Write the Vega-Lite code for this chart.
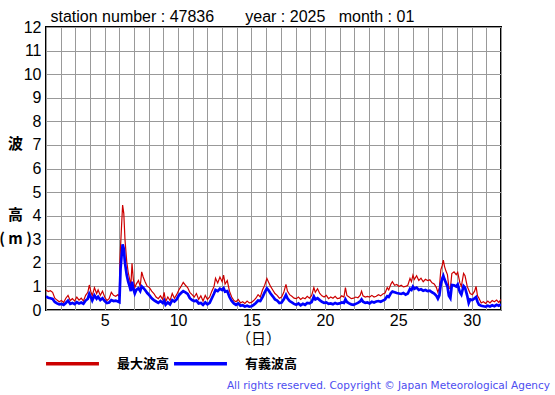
{
  "$schema": "https://vega.github.io/schema/vega-lite/v6.json",
  "width": 455,
  "height": 283,
  "autosize": {"type": "none"},
  "padding": {"left": 46, "top": 27, "right": 54, "bottom": 85},
  "background": "white",
  "config": {
    "view": {"stroke": "black", "strokeWidth": 2},
    "font": "Liberation Sans"
  },
  "title": {
    "text": "All rights reserved. Copyright © Japan Meteorological Agency",
    "orient": "bottom",
    "anchor": "end",
    "font": "DejaVu Sans",
    "fontSize": 10.5,
    "fontWeight": "normal",
    "color": "#4d4df0",
    "dx": 49,
    "offset": 10
  },
  "data": {
    "values": [
      {"d": 1.0, "max": 0.85, "sig": 0.57}, {"d": 1.15, "max": 0.78, "sig": 0.52}, {"d": 1.3, "max": 0.82, "sig": 0.5}, {"d": 1.45, "max": 0.75, "sig": 0.47},
      {"d": 1.6, "max": 0.5, "sig": 0.34}, {"d": 1.75, "max": 0.42, "sig": 0.28}, {"d": 1.9, "max": 0.35, "sig": 0.24}, {"d": 2.05, "max": 0.4, "sig": 0.26},
      {"d": 2.2, "max": 0.32, "sig": 0.22}, {"d": 2.35, "max": 0.5, "sig": 0.3}, {"d": 2.5, "max": 0.62, "sig": 0.4}, {"d": 2.65, "max": 0.4, "sig": 0.26},
      {"d": 2.8, "max": 0.48, "sig": 0.3}, {"d": 2.95, "max": 0.38, "sig": 0.25}, {"d": 3.1, "max": 0.55, "sig": 0.33}, {"d": 3.25, "max": 0.42, "sig": 0.28},
      {"d": 3.4, "max": 0.5, "sig": 0.32}, {"d": 3.55, "max": 0.38, "sig": 0.27}, {"d": 3.7, "max": 0.62, "sig": 0.4}, {"d": 3.85, "max": 0.75, "sig": 0.48},
      {"d": 3.95, "max": 1.06, "sig": 0.68}, {"d": 4.05, "max": 0.8, "sig": 0.55}, {"d": 4.15, "max": 0.6, "sig": 0.4}, {"d": 4.3, "max": 0.95, "sig": 0.62},
      {"d": 4.45, "max": 0.7, "sig": 0.48}, {"d": 4.55, "max": 0.85, "sig": 0.56}, {"d": 4.7, "max": 0.62, "sig": 0.42}, {"d": 4.85, "max": 0.8, "sig": 0.5},
      {"d": 5.0, "max": 0.55, "sig": 0.38}, {"d": 5.15, "max": 0.4, "sig": 0.3}, {"d": 5.3, "max": 0.48, "sig": 0.32}, {"d": 5.45, "max": 0.75, "sig": 0.42},
      {"d": 5.6, "max": 0.62, "sig": 0.38}, {"d": 5.75, "max": 0.58, "sig": 0.4}, {"d": 5.9, "max": 0.65, "sig": 0.36}, {"d": 6.0, "max": 0.55, "sig": 0.33},
      {"d": 6.03, "max": 2.0, "sig": 0.85}, {"d": 6.08, "max": 2.7, "sig": 1.75}, {"d": 6.15, "max": 3.6, "sig": 2.3}, {"d": 6.22, "max": 4.45, "sig": 2.78},
      {"d": 6.3, "max": 4.1, "sig": 2.6}, {"d": 6.38, "max": 3.0, "sig": 2.0}, {"d": 6.5, "max": 2.05, "sig": 1.48}, {"d": 6.6, "max": 1.6, "sig": 1.2},
      {"d": 6.7, "max": 1.3, "sig": 1.0}, {"d": 6.78, "max": 1.0, "sig": 0.8}, {"d": 6.86, "max": 1.98, "sig": 1.2}, {"d": 6.95, "max": 1.3, "sig": 0.9},
      {"d": 7.05, "max": 0.95, "sig": 0.7}, {"d": 7.15, "max": 1.1, "sig": 0.85}, {"d": 7.3, "max": 1.25, "sig": 0.92}, {"d": 7.42, "max": 1.0, "sig": 0.8},
      {"d": 7.52, "max": 1.62, "sig": 1.0}, {"d": 7.62, "max": 1.4, "sig": 0.95}, {"d": 7.75, "max": 1.2, "sig": 0.85}, {"d": 7.9, "max": 1.0, "sig": 0.72},
      {"d": 8.05, "max": 0.95, "sig": 0.62}, {"d": 8.2, "max": 0.8, "sig": 0.5}, {"d": 8.35, "max": 0.7, "sig": 0.42}, {"d": 8.5, "max": 0.55, "sig": 0.36},
      {"d": 8.65, "max": 0.48, "sig": 0.3}, {"d": 8.8, "max": 0.6, "sig": 0.38}, {"d": 8.95, "max": 0.45, "sig": 0.3}, {"d": 9.05, "max": 0.75, "sig": 0.4},
      {"d": 9.15, "max": 0.35, "sig": 0.22}, {"d": 9.3, "max": 0.55, "sig": 0.32}, {"d": 9.45, "max": 0.4, "sig": 0.24}, {"d": 9.6, "max": 0.7, "sig": 0.42},
      {"d": 9.75, "max": 0.5, "sig": 0.36}, {"d": 9.9, "max": 0.65, "sig": 0.45}, {"d": 10.05, "max": 0.85, "sig": 0.62}, {"d": 10.2, "max": 1.0, "sig": 0.72},
      {"d": 10.35, "max": 1.17, "sig": 0.8}, {"d": 10.5, "max": 1.05, "sig": 0.75}, {"d": 10.65, "max": 0.95, "sig": 0.68}, {"d": 10.8, "max": 0.75, "sig": 0.5},
      {"d": 10.95, "max": 0.65, "sig": 0.42}, {"d": 11.1, "max": 0.55, "sig": 0.38}, {"d": 11.25, "max": 0.7, "sig": 0.4}, {"d": 11.4, "max": 0.45, "sig": 0.28},
      {"d": 11.55, "max": 0.6, "sig": 0.3}, {"d": 11.7, "max": 0.38, "sig": 0.22}, {"d": 11.85, "max": 0.62, "sig": 0.32}, {"d": 12.0, "max": 0.45, "sig": 0.24},
      {"d": 12.15, "max": 0.55, "sig": 0.3}, {"d": 12.3, "max": 0.8, "sig": 0.5}, {"d": 12.45, "max": 1.0, "sig": 0.7}, {"d": 12.55, "max": 1.35, "sig": 0.85},
      {"d": 12.7, "max": 1.15, "sig": 0.8}, {"d": 12.85, "max": 1.4, "sig": 0.9}, {"d": 13.0, "max": 1.2, "sig": 0.85}, {"d": 13.1, "max": 1.48, "sig": 0.92},
      {"d": 13.2, "max": 1.1, "sig": 0.78}, {"d": 13.35, "max": 1.25, "sig": 0.8}, {"d": 13.5, "max": 0.8, "sig": 0.55}, {"d": 13.65, "max": 0.55, "sig": 0.38},
      {"d": 13.8, "max": 0.4, "sig": 0.28}, {"d": 13.95, "max": 0.35, "sig": 0.22}, {"d": 14.1, "max": 0.45, "sig": 0.28}, {"d": 14.25, "max": 0.3, "sig": 0.18},
      {"d": 14.4, "max": 0.35, "sig": 0.2}, {"d": 14.55, "max": 0.28, "sig": 0.15}, {"d": 14.7, "max": 0.38, "sig": 0.18}, {"d": 14.85, "max": 0.3, "sig": 0.14},
      {"d": 15.0, "max": 0.32, "sig": 0.16}, {"d": 15.15, "max": 0.4, "sig": 0.22}, {"d": 15.3, "max": 0.5, "sig": 0.3}, {"d": 15.45, "max": 0.65, "sig": 0.4},
      {"d": 15.6, "max": 0.55, "sig": 0.38}, {"d": 15.75, "max": 0.85, "sig": 0.55}, {"d": 15.9, "max": 1.05, "sig": 0.75}, {"d": 16.05, "max": 1.34, "sig": 0.92},
      {"d": 16.15, "max": 1.2, "sig": 0.85}, {"d": 16.3, "max": 1.0, "sig": 0.7}, {"d": 16.45, "max": 0.85, "sig": 0.58}, {"d": 16.6, "max": 0.7, "sig": 0.45},
      {"d": 16.75, "max": 0.62, "sig": 0.4}, {"d": 16.9, "max": 0.5, "sig": 0.3}, {"d": 17.05, "max": 0.55, "sig": 0.32}, {"d": 17.2, "max": 0.75, "sig": 0.45},
      {"d": 17.35, "max": 1.09, "sig": 0.64}, {"d": 17.45, "max": 0.8, "sig": 0.5}, {"d": 17.6, "max": 0.65, "sig": 0.38}, {"d": 17.75, "max": 0.58, "sig": 0.32},
      {"d": 17.9, "max": 0.5, "sig": 0.26}, {"d": 18.05, "max": 0.48, "sig": 0.22}, {"d": 18.2, "max": 0.55, "sig": 0.28}, {"d": 18.35, "max": 0.45, "sig": 0.2},
      {"d": 18.5, "max": 0.52, "sig": 0.26}, {"d": 18.65, "max": 0.48, "sig": 0.22}, {"d": 18.8, "max": 0.58, "sig": 0.3}, {"d": 18.95, "max": 0.5, "sig": 0.28},
      {"d": 19.1, "max": 0.62, "sig": 0.34}, {"d": 19.25, "max": 0.95, "sig": 0.57}, {"d": 19.35, "max": 0.75, "sig": 0.45}, {"d": 19.5, "max": 0.9, "sig": 0.5},
      {"d": 19.65, "max": 0.7, "sig": 0.42}, {"d": 19.8, "max": 0.6, "sig": 0.35}, {"d": 19.95, "max": 0.55, "sig": 0.3}, {"d": 20.1, "max": 0.62, "sig": 0.32},
      {"d": 20.25, "max": 0.48, "sig": 0.26}, {"d": 20.4, "max": 0.55, "sig": 0.28}, {"d": 20.55, "max": 0.5, "sig": 0.24}, {"d": 20.7, "max": 0.58, "sig": 0.3},
      {"d": 20.85, "max": 0.48, "sig": 0.26}, {"d": 21.0, "max": 0.5, "sig": 0.28}, {"d": 21.15, "max": 0.6, "sig": 0.32}, {"d": 21.3, "max": 0.55, "sig": 0.3},
      {"d": 21.4, "max": 0.95, "sig": 0.45}, {"d": 21.5, "max": 0.62, "sig": 0.34}, {"d": 21.65, "max": 0.55, "sig": 0.28}, {"d": 21.8, "max": 0.48, "sig": 0.24},
      {"d": 21.95, "max": 0.5, "sig": 0.22}, {"d": 22.1, "max": 0.55, "sig": 0.26}, {"d": 22.25, "max": 0.52, "sig": 0.3}, {"d": 22.4, "max": 0.62, "sig": 0.36},
      {"d": 22.5, "max": 0.8, "sig": 0.45}, {"d": 22.6, "max": 0.6, "sig": 0.35}, {"d": 22.75, "max": 0.55, "sig": 0.3}, {"d": 22.9, "max": 0.58, "sig": 0.32},
      {"d": 23.05, "max": 0.55, "sig": 0.28}, {"d": 23.2, "max": 0.62, "sig": 0.35}, {"d": 23.35, "max": 0.55, "sig": 0.32}, {"d": 23.5, "max": 0.58, "sig": 0.36},
      {"d": 23.65, "max": 0.65, "sig": 0.38}, {"d": 23.8, "max": 0.6, "sig": 0.35}, {"d": 23.95, "max": 0.68, "sig": 0.4}, {"d": 24.1, "max": 0.72, "sig": 0.45},
      {"d": 24.25, "max": 0.95, "sig": 0.58}, {"d": 24.35, "max": 0.85, "sig": 0.55}, {"d": 24.5, "max": 1.1, "sig": 0.72}, {"d": 24.6, "max": 1.2, "sig": 0.78},
      {"d": 24.75, "max": 1.05, "sig": 0.75}, {"d": 24.9, "max": 1.08, "sig": 0.72}, {"d": 25.05, "max": 1.0, "sig": 0.7}, {"d": 25.2, "max": 1.05, "sig": 0.68},
      {"d": 25.35, "max": 0.98, "sig": 0.72}, {"d": 25.5, "max": 1.0, "sig": 0.65}, {"d": 25.65, "max": 1.05, "sig": 0.7}, {"d": 25.8, "max": 1.34, "sig": 0.9},
      {"d": 25.9, "max": 1.2, "sig": 0.85}, {"d": 26.0, "max": 1.48, "sig": 0.99}, {"d": 26.1, "max": 1.3, "sig": 0.9}, {"d": 26.25, "max": 1.45, "sig": 0.95},
      {"d": 26.4, "max": 1.25, "sig": 0.85}, {"d": 26.55, "max": 1.35, "sig": 0.88}, {"d": 26.7, "max": 1.2, "sig": 0.82}, {"d": 26.85, "max": 1.3, "sig": 0.85},
      {"d": 27.0, "max": 1.25, "sig": 0.8}, {"d": 27.15, "max": 1.28, "sig": 0.82}, {"d": 27.3, "max": 1.15, "sig": 0.75}, {"d": 27.45, "max": 1.1, "sig": 0.7},
      {"d": 27.6, "max": 0.95, "sig": 0.6}, {"d": 27.7, "max": 0.75, "sig": 0.48}, {"d": 27.8, "max": 0.95, "sig": 0.62}, {"d": 27.9, "max": 1.7, "sig": 1.1},
      {"d": 28.0, "max": 1.9, "sig": 1.34}, {"d": 28.07, "max": 2.12, "sig": 1.45}, {"d": 28.15, "max": 1.85, "sig": 1.3}, {"d": 28.25, "max": 1.65, "sig": 1.15},
      {"d": 28.35, "max": 1.5, "sig": 1.0}, {"d": 28.45, "max": 0.95, "sig": 0.6}, {"d": 28.55, "max": 0.9, "sig": 0.5}, {"d": 28.65, "max": 1.55, "sig": 1.06},
      {"d": 28.8, "max": 1.62, "sig": 1.05}, {"d": 28.95, "max": 1.5, "sig": 1.0}, {"d": 29.05, "max": 1.6, "sig": 1.08}, {"d": 29.2, "max": 1.15, "sig": 0.75},
      {"d": 29.3, "max": 1.0, "sig": 0.65}, {"d": 29.45, "max": 1.55, "sig": 1.02}, {"d": 29.55, "max": 1.45, "sig": 0.95}, {"d": 29.7, "max": 1.0, "sig": 0.6},
      {"d": 29.8, "max": 0.85, "sig": 0.3}, {"d": 29.9, "max": 0.7, "sig": 0.45}, {"d": 30.05, "max": 0.65, "sig": 0.42}, {"d": 30.2, "max": 0.8, "sig": 0.5},
      {"d": 30.3, "max": 1.0, "sig": 0.55}, {"d": 30.4, "max": 0.6, "sig": 0.35}, {"d": 30.5, "max": 0.5, "sig": 0.22}, {"d": 30.65, "max": 0.3, "sig": 0.18},
      {"d": 30.8, "max": 0.35, "sig": 0.16}, {"d": 30.95, "max": 0.28, "sig": 0.14}, {"d": 31.1, "max": 0.38, "sig": 0.18}, {"d": 31.25, "max": 0.3, "sig": 0.15},
      {"d": 31.4, "max": 0.4, "sig": 0.2}, {"d": 31.55, "max": 0.35, "sig": 0.16}, {"d": 31.7, "max": 0.42, "sig": 0.22}, {"d": 31.85, "max": 0.32, "sig": 0.18},
      {"d": 32.0, "max": 0.45, "sig": 0.24}
    ]
  },
  "transform": [{"fold": ["max", "sig"], "as": ["series", "value"]}],
  "layer": [
    {
      "transform": [{"filter": "datum.series == 'max'"}],
      "mark": {"type": "line", "clip": true, "strokeWidth": 1.2},
      "encoding": {
        "x": {
          "field": "d", "type": "quantitative",
          "scale": {"domain": [1, 32], "nice": false, "zero": false},
          "axis": {
            "values": [1,2,3,4,5,6,7,8,9,10,11,12,13,14,15,16,17,18,19,20,21,22,23,24,25,26,27,28,29,30,31,32],
            "labelExpr": "datum.value % 5 == 0 ? datum.label : ''",
            "grid": true, "gridColor": "#999999", "gridWidth": 1, "gridOpacity": 1,
            "ticks": false, "domain": false,
            "labelFontSize": 16, "labelColor": "black", "labelPadding": 2,
            "labelFont": "Liberation Sans",
            "title": "（日）", "titleFont": "Noto Sans CJK JP", "titleFontSize": 15,
            "titleFontWeight": "normal", "titleColor": "black", "titlePadding": 3,
            "titleX": 212
          }
        },
        "y": {
          "field": "value", "type": "quantitative",
          "scale": {"domain": [0, 12], "nice": false},
          "axis": {
            "values": [0,1,2,3,4,5,6,7,8,9,10,11,12],
            "grid": true, "gridColor": "#999999", "gridWidth": 1, "gridOpacity": 1,
            "ticks": false, "domain": false,
            "labelFontSize": 16, "labelColor": "black", "labelPadding": 5,
            "labelFont": "Liberation Sans",
            "title": ["波", "\u200b", "\u200b\u200b", "高", "( m )"],
            "titleAngle": 0, "titleFont": "Noto Sans CJK JP", "titleFontSize": 15,
            "titleFontWeight": "bold", "titleColor": "black", "titleLineHeight": 23.8,
            "titleX": -31, "titleY": 116, "titleAlign": "center", "titleBaseline": "middle"
          }
        },
        "color": {
          "field": "series", "type": "nominal",
          "scale": {"domain": ["max", "sig"], "range": ["#cc0000", "#0000ff"]},
          "legend": {
            "orient": "none", "legendX": -2, "legendY": 308,
            "direction": "horizontal", "title": null,
            "symbolType": "stroke", "symbolSize": 2800, "symbolStrokeWidth": 3.5,
            "labelExpr": "datum.value == 'max' ? '最大波高' : '有義波高'",
            "labelFont": "Noto Sans CJK JP", "labelFontSize": 13, "labelFontWeight": "bold",
            "labelColor": "black", "labelOffset": 16, "columnPadding": -3, "padding": 0
          }
        }
      }
    },
    {
      "transform": [{"filter": "datum.series == 'sig'"}],
      "mark": {"type": "line", "clip": true, "strokeWidth": 2.7},
      "encoding": {
        "x": {"field": "d", "type": "quantitative", "axis": null},
        "y": {"field": "value", "type": "quantitative", "axis": null},
        "color": {"field": "series", "type": "nominal", "legend": null}
      }
    },
    {
      "mark": {"type": "rule", "opacity": 0},
      "encoding": {
        "x": {
          "field": "d", "type": "quantitative",
          "axis": {
            "orient": "top", "labels": false, "ticks": false, "domain": false, "grid": false,
            "title": "station number : 47836\u00a0\u00a0\u00a0\u00a0\u00a0\u00a0\u00a0year : 2025\u00a0\u00a0\u00a0month : 01",
            "titleFont": "Liberation Sans", "titleFontSize": 16, "titleFontWeight": "normal",
            "titleColor": "black", "titleAnchor": "start", "titleAlign": "left",
            "titleX": 4, "titleY": -6, "titleBaseline": "alphabetic"
          }
        }
      }
    }
  ],
  "resolve": {"axis": {"x": "independent", "y": "independent"}, "legend": {"color": "shared"}}
}
